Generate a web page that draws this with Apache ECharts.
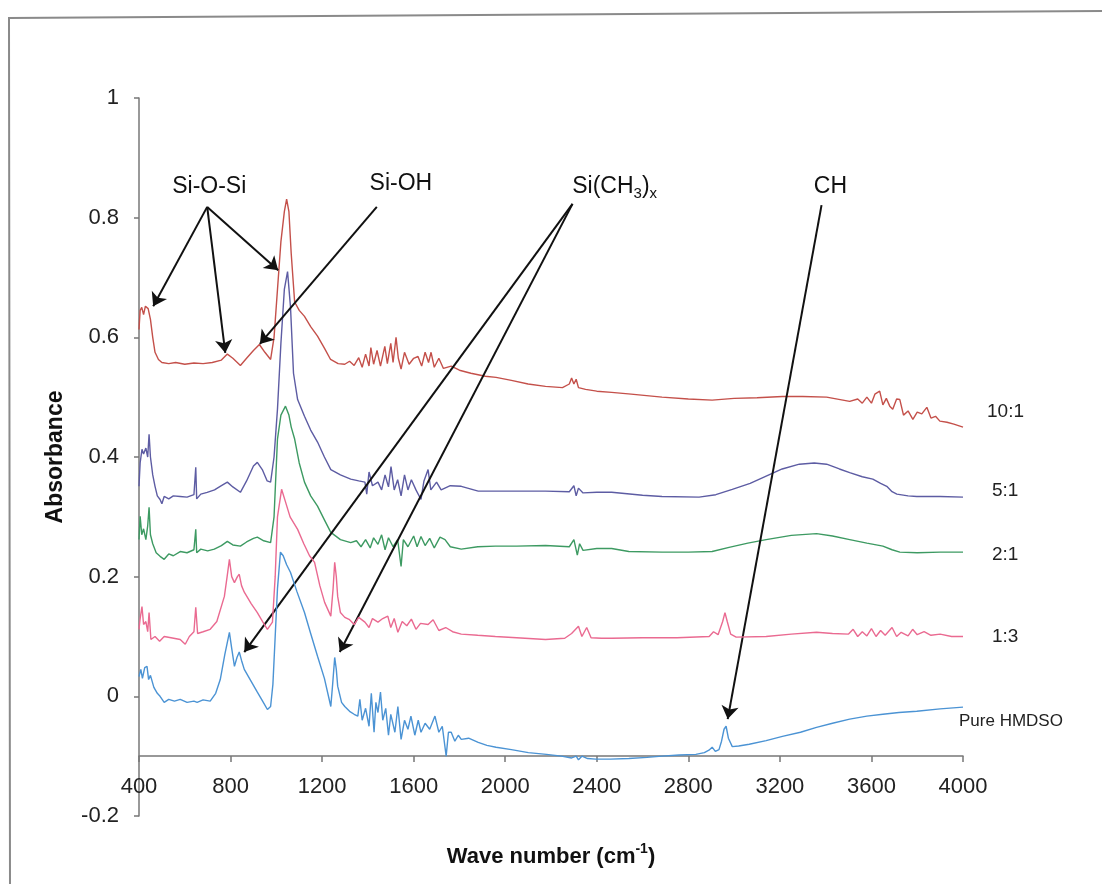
<!DOCTYPE html>
<html><head><meta charset="utf-8">
<script src="https://cdn.jsdelivr.net/npm/echarts@6/dist/echarts.min.js"></script>
<style>html,body{margin:0;padding:0;background:#fff}#c{width:1102px;height:884px}</style>
</head><body><div id="c"></div>
<script>
// ---------------- data ----------------
const seriesNames = ['10:1', '5:1', '2:1', '1:3', 'Pure HMDSO'];

const s10to1 = [[400,0.613],[405,0.645],[412,0.65],[420,0.638],[428,0.652],[440,0.648],[450,0.63],[460,0.6],[470,0.575],[485,0.563],[500,0.558],[530,0.556],[560,0.558],[600,0.555],[640,0.557],[680,0.556],[720,0.558],[760,0.562],[786,0.572],[810,0.565],[843,0.553],[870,0.565],[900,0.578],[926,0.588],[950,0.575],[975,0.563],[990,0.6],[1005,0.68],[1020,0.76],[1035,0.81],[1045,0.831],[1055,0.81],[1065,0.74],[1080,0.659],[1100,0.645],[1123,0.635],[1150,0.618],[1180,0.602],[1210,0.582],[1237,0.563],[1270,0.556],[1299,0.555],[1320,0.56],[1340,0.553],[1360,0.566],[1375,0.55],[1390,0.572],[1405,0.552],[1413,0.583],[1425,0.555],[1440,0.578],[1455,0.552],[1474,0.585],[1485,0.556],[1500,0.59],[1510,0.558],[1523,0.6],[1533,0.565],[1545,0.547],[1560,0.575],[1580,0.555],[1600,0.565],[1619,0.568],[1635,0.552],[1650,0.575],[1665,0.558],[1676,0.575],[1690,0.55],[1710,0.565],[1730,0.548],[1764,0.552],[1800,0.545],[1850,0.54],[1913,0.535],[1960,0.533],[2027,0.528],[2100,0.522],[2176,0.518],[2250,0.516],[2280,0.522],[2290,0.532],[2300,0.522],[2310,0.53],[2320,0.516],[2351,0.513],[2400,0.51],[2465,0.508],[2550,0.505],[2685,0.5],[2800,0.497],[2904,0.495],[3000,0.498],[3100,0.499],[3211,0.501],[3300,0.501],[3404,0.5],[3505,0.493],[3540,0.497],[3560,0.49],[3580,0.5],[3600,0.49],[3615,0.505],[3636,0.51],[3650,0.487],[3665,0.498],[3680,0.485],[3693,0.48],[3710,0.497],[3724,0.496],[3740,0.47],[3760,0.477],[3781,0.463],[3800,0.475],[3820,0.472],[3842,0.483],[3860,0.465],[3880,0.468],[3899,0.46],[3930,0.458],[3960,0.455],[4000,0.45]];

const s5to1 = [[400,0.351],[405,0.39],[413,0.413],[420,0.405],[430,0.415],[438,0.4],[444,0.438],[450,0.4],[460,0.37],[470,0.351],[480,0.335],[492,0.329],[500,0.322],[510,0.334],[530,0.33],[550,0.335],[580,0.334],[610,0.333],[640,0.337],[648,0.383],[652,0.33],[670,0.338],[698,0.341],[730,0.345],[760,0.352],[786,0.358],[810,0.35],[843,0.341],[870,0.36],[900,0.385],[917,0.391],[940,0.378],[960,0.36],[975,0.358],[990,0.4],[1005,0.48],[1020,0.59],[1035,0.68],[1049,0.71],[1062,0.65],[1075,0.54],[1093,0.496],[1123,0.468],[1150,0.445],[1180,0.425],[1210,0.4],[1238,0.379],[1280,0.37],[1325,0.363],[1360,0.36],[1387,0.358],[1395,0.338],[1405,0.375],[1420,0.352],[1444,0.358],[1460,0.345],[1475,0.37],[1490,0.35],[1501,0.384],[1515,0.345],[1530,0.362],[1545,0.335],[1560,0.37],[1575,0.345],[1590,0.362],[1610,0.345],[1632,0.329],[1645,0.36],[1663,0.379],[1675,0.345],[1700,0.358],[1720,0.345],[1760,0.352],[1808,0.351],[1882,0.343],[2000,0.343],[2100,0.343],[2176,0.343],[2280,0.342],[2300,0.352],[2310,0.335],[2320,0.348],[2340,0.34],[2400,0.341],[2465,0.341],[2600,0.336],[2685,0.334],[2847,0.333],[2920,0.337],[2992,0.346],[3070,0.356],[3140,0.368],[3210,0.38],[3285,0.388],[3350,0.39],[3404,0.388],[3460,0.38],[3505,0.374],[3560,0.367],[3606,0.363],[3640,0.356],[3667,0.351],[3690,0.342],[3711,0.338],[3760,0.335],[3798,0.334],[3900,0.334],[4000,0.333]];

const s2to1 = [[400,0.262],[405,0.301],[412,0.27],[420,0.28],[430,0.262],[438,0.285],[444,0.316],[450,0.27],[460,0.255],[475,0.24],[492,0.234],[510,0.229],[530,0.238],[550,0.235],[580,0.242],[610,0.24],[640,0.245],[648,0.279],[652,0.24],[670,0.246],[700,0.243],[729,0.246],[760,0.252],[786,0.259],[810,0.253],[843,0.251],[870,0.258],[900,0.264],[917,0.266],[945,0.26],[975,0.257],[990,0.3],[1005,0.43],[1020,0.47],[1040,0.485],[1055,0.47],[1065,0.45],[1080,0.43],[1100,0.39],[1123,0.358],[1150,0.335],[1180,0.318],[1210,0.295],[1238,0.274],[1280,0.262],[1325,0.257],[1350,0.26],[1370,0.25],[1390,0.262],[1410,0.248],[1425,0.265],[1444,0.254],[1460,0.27],[1475,0.245],[1490,0.265],[1510,0.25],[1530,0.262],[1545,0.217],[1555,0.262],[1575,0.25],[1600,0.268],[1615,0.25],[1632,0.267],[1650,0.252],[1670,0.264],[1690,0.248],[1715,0.266],[1737,0.262],[1760,0.25],[1808,0.246],[1880,0.25],[1957,0.251],[2050,0.251],[2176,0.252],[2280,0.25],[2300,0.262],[2315,0.236],[2325,0.255],[2340,0.244],[2400,0.247],[2465,0.247],[2540,0.242],[2685,0.241],[2800,0.241],[2904,0.242],[2978,0.249],[3060,0.256],[3140,0.262],[3250,0.269],[3360,0.272],[3430,0.268],[3505,0.262],[3580,0.256],[3650,0.251],[3690,0.245],[3724,0.241],[3800,0.24],[3900,0.241],[4000,0.241]];

const s1to3 = [[400,0.112],[405,0.13],[413,0.15],[420,0.12],[430,0.125],[438,0.108],[444,0.14],[452,0.095],[470,0.1],[490,0.092],[510,0.1],[540,0.098],[580,0.095],[602,0.087],[620,0.1],[640,0.108],[648,0.149],[656,0.105],[680,0.108],[711,0.112],[740,0.125],[773,0.167],[785,0.2],[795,0.229],[805,0.2],[817,0.19],[830,0.2],[838,0.204],[848,0.185],[860,0.174],[890,0.155],[917,0.14],[940,0.125],[961,0.112],[983,0.124],[995,0.2],[1005,0.3],[1023,0.346],[1040,0.325],[1060,0.3],[1093,0.279],[1120,0.255],[1145,0.235],[1167,0.224],[1190,0.185],[1211,0.157],[1238,0.134],[1248,0.18],[1255,0.224],[1262,0.2],[1268,0.167],[1280,0.14],[1299,0.132],[1320,0.128],[1340,0.12],[1360,0.132],[1387,0.124],[1405,0.115],[1420,0.13],[1444,0.124],[1465,0.13],[1487,0.134],[1500,0.115],[1515,0.13],[1531,0.107],[1550,0.125],[1570,0.118],[1590,0.129],[1610,0.112],[1630,0.122],[1663,0.12],[1685,0.128],[1710,0.11],[1740,0.115],[1770,0.108],[1808,0.104],[1880,0.102],[1957,0.1],[2050,0.098],[2176,0.095],[2260,0.097],[2290,0.105],[2320,0.117],[2335,0.1],[2356,0.115],[2375,0.098],[2420,0.097],[2465,0.097],[2600,0.098],[2750,0.098],[2891,0.1],[2910,0.108],[2930,0.103],[2950,0.125],[2960,0.14],[2970,0.125],[2985,0.104],[3009,0.099],[3140,0.1],[3250,0.104],[3360,0.107],[3430,0.105],[3500,0.104],[3520,0.112],[3540,0.1],[3560,0.108],[3580,0.101],[3600,0.113],[3620,0.1],[3640,0.11],[3660,0.102],[3690,0.115],[3710,0.1],[3730,0.107],[3760,0.101],[3780,0.112],[3800,0.103],[3830,0.108],[3860,0.102],[3900,0.104],[3950,0.1],[4000,0.1]];

const sPure = [[400,0.033],[408,0.045],[415,0.03],[425,0.048],[435,0.05],[442,0.028],[450,0.035],[465,0.015],[480,0.005],[492,0],[510,-0.01],[530,-0.005],[555,-0.008],[580,-0.005],[610,-0.01],[640,-0.008],[654,-0.01],[680,-0.006],[711,-0.008],[735,0.005],[755,0.028],[775,0.07],[795,0.107],[805,0.08],[817,0.05],[828,0.065],[838,0.074],[848,0.06],[860,0.045],[890,0.025],[917,0.007],[940,-0.008],[961,-0.022],[975,-0.017],[985,0.02],[995,0.1],[1005,0.18],[1018,0.241],[1030,0.235],[1045,0.22],[1062,0.207],[1090,0.175],[1123,0.14],[1150,0.105],[1180,0.067],[1210,0.03],[1238,-0.017],[1246,0.02],[1255,0.065],[1262,0.045],[1268,0.017],[1285,-0.01],[1299,-0.017],[1320,-0.025],[1340,-0.03],[1356,-0.033],[1365,-0.005],[1375,-0.04],[1390,-0.02],[1405,-0.05],[1415,0.005],[1427,-0.06],[1435,-0.01],[1444,-0.027],[1455,0.007],[1465,-0.04],[1478,-0.02],[1490,-0.065],[1500,-0.03],[1518,-0.06],[1531,-0.017],[1545,-0.072],[1560,-0.04],[1575,-0.055],[1588,-0.033],[1605,-0.065],[1620,-0.04],[1632,-0.06],[1650,-0.045],[1670,-0.055],[1693,-0.033],[1710,-0.06],[1725,-0.05],[1742,-0.1],[1752,-0.06],[1764,-0.06],[1780,-0.075],[1795,-0.065],[1808,-0.072],[1840,-0.07],[1882,-0.077],[1920,-0.082],[1960,-0.085],[2027,-0.089],[2101,-0.094],[2180,-0.097],[2246,-0.1],[2290,-0.103],[2310,-0.1],[2320,-0.106],[2335,-0.1],[2360,-0.104],[2395,-0.105],[2460,-0.105],[2540,-0.104],[2620,-0.102],[2685,-0.1],[2760,-0.098],[2833,-0.097],[2870,-0.094],[2890,-0.09],[2904,-0.085],[2918,-0.092],[2934,-0.089],[2945,-0.075],[2956,-0.055],[2965,-0.05],[2975,-0.07],[2992,-0.084],[3020,-0.083],[3066,-0.08],[3140,-0.074],[3211,-0.067],[3290,-0.06],[3360,-0.052],[3430,-0.045],[3505,-0.038],[3580,-0.033],[3650,-0.03],[3720,-0.027],[3798,-0.025],[3900,-0.021],[4000,-0.018]];

// annotation texts and arrows, in data units (wave number, absorbance)
const annotationTexts = ['Si-O-Si', 'Si-OH', 'Si(CH3)x', 'CH'];
const annotationAt = [[707, 0.852], [1544, 0.857], [2478, 0.852], [3421, 0.852]];
const arrowFrom = [[698, 0.818], [698, 0.818], [698, 0.818], [1439, 0.818], [2294, 0.823], [2294, 0.823], [3382, 0.821]];
const arrowTo   = [[462, 0.652], [777, 0.574], [1008, 0.712], [928, 0.589], [860, 0.074], [1277, 0.074], [2972, -0.038]];

// ---------------- styles ----------------
const FONT = '"Liberation Sans", Arial, sans-serif';
const colors = ['#c4504a', '#5d5ca3', '#3d9a62', '#ea6a91', '#4b93d4'];
const labelOffsets = [[24, -15], [29, -6], [29, 3], [29, 0], [-4, 14]];
const allData = [s10to1, s5to1, s2to1, s1to3, sPure];

const series = allData.map((d, i) => ({
  name: seriesNames[i],
  type: 'line',
  data: d,
  showSymbol: false,
  symbol: 'none',
  clip: false,
  lineStyle: { color: colors[i], width: 1.4 },
  z: 2 + i,
  markPoint: {
    symbol: 'circle', symbolSize: 0, silent: true,
    data: [{ coord: d[d.length - 1] }],
    label: {
      show: true, position: 'right', distance: 0, offset: labelOffsets[i],
      formatter: seriesNames[i], fontFamily: FONT,
      fontSize: i === 4 ? 17 : 19, color: '#222'
    }
  }
}));

const richA = { fontFamily: FONT, fontSize: 23, color: '#111', lineHeight: 30, verticalAlign: 'middle' };
const richS = { fontFamily: FONT, fontSize: 15, color: '#111', lineHeight: 30, verticalAlign: 'bottom' };

series.push({
  name: 'annotations',
  type: 'line',
  data: [],
  z: 20,
  markLine: {
    silent: true,
    symbol: ['none', 'arrow'],
    symbolSize: 13,
    label: { show: false },
    lineStyle: { color: '#111', width: 2, type: 'solid' },
    data: arrowFrom.map((f, i) => [{ coord: f }, { coord: arrowTo[i] }])
  },
  markPoint: {
    symbol: 'circle', symbolSize: 0, silent: true,
    label: {
      show: true, position: 'inside',
      formatter: p => p.name === 'Si(CH3)x' ? '{a|Si(CH}{s|3}{a|)}{s|x}' : '{a|' + p.name + '}',
      rich: { a: richA, s: richS }
    },
    data: annotationTexts.map((t, i) => ({ name: t, coord: annotationAt[i] }))
  }
});

const chart = echarts.init(document.getElementById('c'), null, { renderer: 'canvas' });
chart.setOption({
  animation: false,
  backgroundColor: '#fff',
  grid: { left: 139, right: 139, top: 98, bottom: 68, containLabel: false },
  xAxis: {
    type: 'value', min: 400, max: 4000, interval: 400,
    offset: -60,
    axisLine: { show: true, onZero: false, lineStyle: { color: '#777', width: 1.5 } },
    axisTick: { show: true, length: 6, inside: false, lineStyle: { color: '#777', width: 1.5 } },
    axisLabel: { margin: 20, fontFamily: FONT, fontSize: 22, color: '#222', formatter: v => String(v) },
    splitLine: { show: false },
    name: '{t|Wave number (cm}{p|-1}{t|)}',
    nameLocation: 'middle', nameGap: 86,
    nameTextStyle: {
      rich: {
        t: { fontFamily: FONT, fontSize: 22, fontWeight: 'bold', color: '#111', lineHeight: 30, verticalAlign: 'middle' },
        p: { fontFamily: FONT, fontSize: 14, fontWeight: 'bold', color: '#111', lineHeight: 30, verticalAlign: 'top' }
      }
    }
  },
  yAxis: {
    type: 'value', min: -0.2, max: 1, interval: 0.2,
    axisLine: { show: true, onZero: false, lineStyle: { color: '#777', width: 1.5 } },
    axisTick: { show: true, length: 5, inside: false, lineStyle: { color: '#777', width: 1.5 } },
    axisLabel: { margin: 20, fontFamily: FONT, fontSize: 22, color: '#222' },
    splitLine: { show: false },
    name: 'Absorbance',
    nameLocation: 'middle', nameGap: 72,
    nameTextStyle: { fontFamily: FONT, fontSize: 23, fontWeight: 'bold', color: '#111' }
  },
  graphic: [
    { type: 'polyline', silent: true, shape: { points: [[10, 884], [9, 18], [1102, 11]] },
      style: { stroke: '#8a8a8a', lineWidth: 2, fill: null } }
  ],
  series: series
});
</script>
</body></html>
